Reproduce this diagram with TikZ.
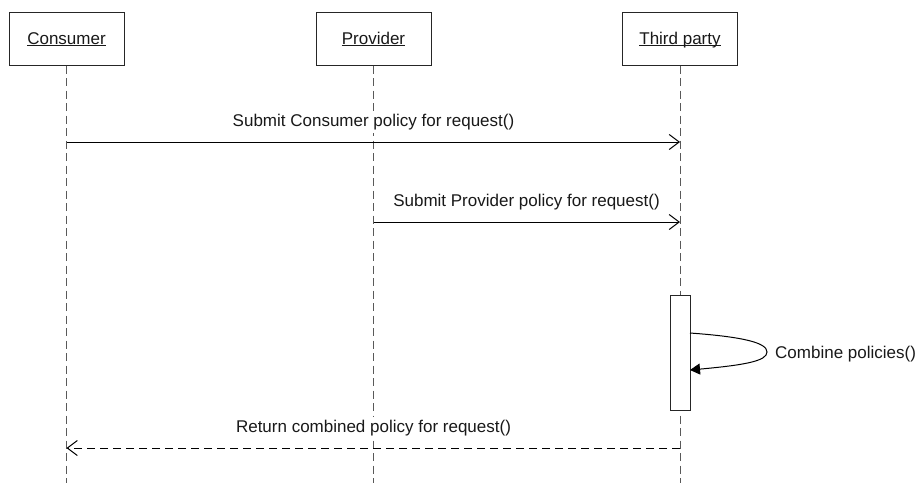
\documentclass[tikz,border=0pt]{standalone}
\usepackage{fontspec}
\setmainfont{Liberation Sans}
\usetikzlibrary{arrows.meta}

% underline that sits just under the baseline, through descenders
\newlength\ulwd
\newcommand\ulword[1]{\settowidth\ulwd{#1}\rlap{\rule[-1.4pt]{\ulwd}{0.9pt}}#1}

\tikzset{
  lbl/.style={font=\fontsize{17}{20}\selectfont, text=black!90},
  header/.style={lbl, draw=black!85, line width=1pt, fill=white,
    minimum width=115pt, minimum height=53pt, inner sep=0pt,
    text height=12.2pt, text depth=0pt},
  lifeline/.style={draw=black!65, line width=1pt, dash pattern=on 8pt off 4.5pt},
  msg/.style={draw=black, line width=1pt, -{Straight Barb[length=10pt,width=15pt]}},
  reply/.style={msg, dash pattern=on 8pt off 5pt},
  msglabel/.style={lbl, fill=white, inner sep=3pt, anchor=base},
  activation/.style={draw=black!85, line width=1pt, fill=white,
    minimum width=20pt, minimum height=115pt, inner sep=0pt},
  selfcall/.style={draw=black, line width=1pt, -{Triangle[length=10pt,width=11pt]}}
}

\begin{document}
\begin{tikzpicture}[x=1pt, y=-1pt]
  \useasboundingbox (0,0) rectangle (918,483);

  % participants
  \node[header] (cons) at (66.5,38.5) {\ulword{Consumer}};
  \node[header] (prov) at (373.5,38.5) {\ulword{Provider}};
  \node[header] (third) at (680,38.5) {\ulword{Third party}};

  % lifeline ends
  \coordinate (consEnd) at (66.5,483);
  \coordinate (provEnd) at (373.5,483);
  \coordinate (thirdEnd) at (680,483);

  \draw[lifeline] (cons) -- (consEnd);
  \draw[lifeline] (prov) -- (provEnd);
  \draw[lifeline] (third) -- (thirdEnd);

  % message end points
  \coordinate (c1) at (66.5,142);
  \coordinate (t1) at (680,142);
  \coordinate (p2) at (373.5,222);
  \coordinate (t2) at (680,222);
  \coordinate (t3) at (680,448);
  \coordinate (c3) at (66.5,448);

  % Consumer -> Third party
  \draw[msg] (c1) -- (t1);
  \node[msglabel] (m1) at (373.5,126) {Submit Consumer policy for request()};

  % Provider -> Third party
  \draw[msg] (p2) -- (t2);
  \node[msglabel] (m2) at (526.5,206) {Submit Provider policy for request()};

  % activation on Third party with self call
  \node[activation] (act) at (680,352.5) {};
  \coordinate (s1) at (690,333);
  \coordinate (s2) at (690,370);
  \draw[selfcall] (s1) .. controls (745,337) and (767,343) .. (767,352)
                       .. controls (767,361) and (745,365) .. (s2);
  \node[lbl, anchor=base west, inner sep=0pt] (m3) at (775,358) {Combine policies()};

  % reply to Consumer
  \draw[reply] (t3) -- (c3);
  \node[msglabel] (m4) at (373.5,432) {Return combined policy for request()};
\end{tikzpicture}
\end{document}
